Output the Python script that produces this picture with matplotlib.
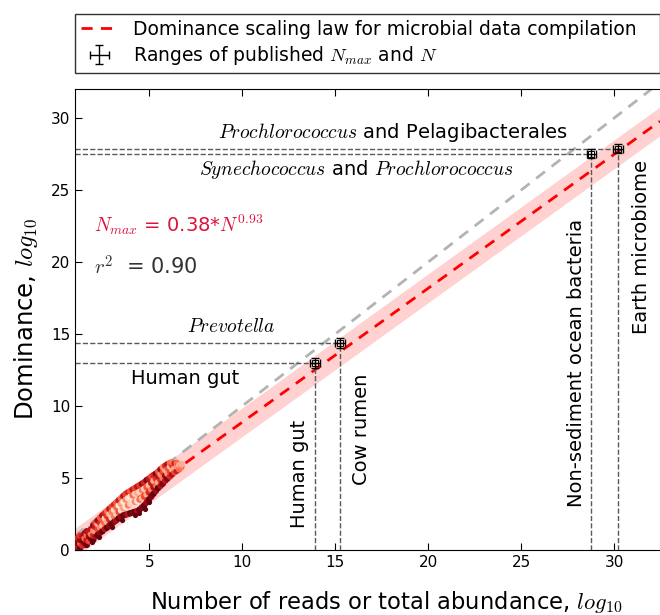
import numpy as np
import matplotlib
matplotlib.use('Agg')
import matplotlib.pyplot as plt

plt.rcParams['mathtext.fontset'] = 'cm'

# fitted dominance scaling law, N_max = c * N^z
fit_c = 0.38
fit_z = 0.93
fit_r2 = 0.90

col_x = [1.05, 1.15, 1.28, 1.4, 1.52, 1.63, 1.75, 1.86, 1.98, 2.1, 2.22, 2.35, 2.47, 2.6, 2.72, 2.85,
         2.97, 3.1, 3.22, 3.35, 3.47, 3.6, 3.72, 3.85, 3.97, 4.1, 4.22, 4.35, 4.47, 4.6, 4.72, 4.85,
         4.97, 5.1, 5.22, 5.35, 5.47, 5.6, 5.72, 5.85, 5.97, 6.1, 6.22, 6.35, 6.47, 6.6, 6.72]
col_y = [[0.1, 0.35, 0.6], [0.25, 0.5, 0.85], [0.15, 0.45, 0.7, 1.0], [0.3, 0.65, 0.95],
         [0.5, 0.8, 1.15], [0.35, 0.7, 1.05, 1.3], [0.6, 0.95, 1.25], [0.8, 1.1, 1.45],
         [0.7, 1.0, 1.35, 1.7], [0.95, 1.3, 1.6, 1.9], [1.05, 1.45, 1.8, 2.05], [1.2, 1.55, 1.9, 2.25],
         [1.3, 1.7, 2.05, 2.4], [1.45, 1.85, 2.2, 2.55], [1.55, 1.95, 2.35, 2.7], [1.7, 2.1, 2.5, 2.85],
         [1.8, 2.25, 2.65, 3.0], [1.95, 2.35, 2.8, 3.15], [2.05, 2.5, 2.95, 3.3], [2.2, 2.65, 3.1, 3.45],
         [2.3, 2.75, 3.2, 3.6], [2.4, 2.9, 3.35, 3.75], [2.45, 3.0, 3.5, 3.9], [2.5, 3.1, 3.6, 4.0],
         [2.55, 3.2, 3.7, 4.1], [2.6, 3.3, 3.8, 4.2], [2.65, 3.35, 3.9, 4.3], [2.7, 3.4, 3.95, 4.4],
         [2.8, 3.5, 4.05, 4.5], [2.95, 3.6, 4.15, 4.6], [3.1, 3.7, 4.25, 4.7], [3.3, 3.85, 4.35, 4.85],
         [3.5, 4.0, 4.5, 4.95], [3.7, 4.2, 4.65, 5.1], [3.9, 4.35, 4.8, 5.2], [4.1, 4.5, 4.95, 5.3],
         [4.3, 4.7, 5.1, 5.45], [4.45, 4.85, 5.25, 5.6], [4.6, 5.0, 5.4, 5.75], [4.8, 5.15, 5.55, 5.85],
         [4.95, 5.3, 5.7, 5.95], [5.1, 5.45, 5.8, 6.05], [5.25, 5.6, 5.9, 6.1], [5.4, 5.7, 6.0],
         [5.5, 5.8, 6.05], [5.6, 5.9], [5.75, 5.95]]
col_c = [[0.95, 0.6, 0.85], [0.8, 0.95, 0.7], [1.0, 0.55, 0.9, 0.65], [0.7, 0.95, 0.8],
         [0.95, 0.5, 0.9], [1.0, 0.75, 0.45, 0.85], [0.6, 0.9, 0.75], [0.95, 0.45, 0.8],
         [1.0, 0.7, 0.4, 0.9], [0.85, 0.35, 0.75, 0.6], [1.0, 0.6, 0.3, 0.9], [0.9, 0.4, 0.7, 0.55],
         [1.0, 0.25, 0.55, 0.85], [0.8, 0.5, 0.2, 0.7], [1.0, 0.3, 0.65, 0.5], [0.9, 0.7, 0.25, 0.8],
         [1.0, 0.2, 0.45, 0.6], [0.95, 0.45, 0.15, 0.7], [0.85, 0.2, 0.5, 0.55], [1.0, 0.6, 0.1, 0.75],
         [0.9, 0.15, 0.35, 0.5], [1.0, 0.35, 0.1, 0.8], [0.95, 0.1, 0.4, 0.6], [0.8, 0.45, 0.15, 0.7],
         [1.0, 0.2, 0.1, 0.55], [0.95, 0.15, 0.5, 0.75], [1.0, 0.4, 0.2, 0.6], [0.85, 0.1, 0.3, 0.8],
         [1.0, 0.5, 0.15, 0.65], [0.95, 0.25, 0.45, 0.9], [1.0, 0.6, 0.2, 0.7], [0.9, 0.3, 0.55, 0.95],
         [1.0, 0.7, 0.25, 0.8], [0.95, 0.4, 0.75, 0.6], [1.0, 0.85, 0.3, 0.7], [0.9, 0.5, 0.65, 0.95],
         [1.0, 0.3, 0.8, 0.55], [0.85, 0.7, 0.35, 0.9], [0.95, 0.45, 0.6, 0.4], [0.8, 0.9, 0.3, 0.7],
         [0.95, 0.35, 0.55, 0.85], [0.7, 0.6, 0.25, 0.5], [0.85, 0.3, 0.65, 0.45], [0.6, 0.3, 0.7],
         [0.75, 0.35, 0.5], [0.5, 0.3], [0.45, 0.3]]
outlier_x = [4.2, 4.45, 2.3, 3.0, 5.0, 1.9, 3.55, 4.75]
outlier_y = [2.4, 2.55, 0.9, 1.6, 3.3, 0.55, 2.05, 2.85]

# published Nmax and N for large systems
sys_x = [13.9, 15.25, 28.75, 30.2]
sys_y = [12.95, 14.35, 27.5, 27.85]
sys_xerr = [0.25, 0.25, 0.25, 0.25]
sys_yerr = [0.35, 0.35, 0.3, 0.3]
sys_names = ['Human gut', 'Cow rumen', 'Non-sediment ocean bacteria', 'Earth microbiome']
dom_names = ['Human gut', '$Prevotella$',
             '$Synechococcus$ and $Prochlorococcus$', '$Prochlorococcus$ and Pelagibacterales']


def main():
    fig = plt.figure(figsize=(6.6, 6.15), dpi=100)
    ax = fig.add_axes([0.1136, 0.1057, 0.8864, 0.7496])
    xmin, xmax = 1.0, 32.45

    xs = np.linspace(xmin, xmax, 200)
    ys = np.log10(fit_c) + fit_z * xs
    ax.fill_between(xs, ys - 1.0, ys + 1.0, color='red', alpha=0.18, lw=0, zorder=1)
    ax.plot([xmin, xmax], [xmin, xmax], '--', color='0.7', lw=2, dashes=(4, 3), zorder=2)
    ax.plot(xs, ys, '--', color='red', lw=2, dashes=(4, 3), zorder=2,
            label='Dominance scaling law for microbial data compilation')

    px, py, pc = [], [], []
    for x, yl, cl in zip(col_x, col_y, col_c):
        px += [x] * len(yl)
        py += yl
        pc += cl
    ax.scatter(px, py, c=pc, cmap='Reds', vmin=0, vmax=1, s=22, lw=0, zorder=3)
    ax.scatter(outlier_x, outlier_y, c='#67000d', s=14, lw=0, zorder=3)

    # guide lines to the published systems
    ax.vlines(sys_x, 0, sys_y, colors='0.35', linestyles='dashed', lw=1, zorder=2)
    ax.hlines(sys_y, xmin, sys_x, colors='0.35', linestyles='dashed', lw=1, zorder=2)

    ax.errorbar(sys_x, sys_y, xerr=sys_xerr, yerr=sys_yerr, fmt='none', ecolor='k',
                elinewidth=1, capsize=3, zorder=4, label='Ranges of published $N_{max}$ and $N$')
    ax.plot(sys_x, sys_y, 's', ms=4.5, mfc='none', mec='k', mew=0.7, zorder=4)

    # labels for N (vertical) and Nmax (horizontal)
    ax.text(13.06, 5.3, sys_names[0], rotation=90, fontsize=14, ha='center', va='center')
    ax.text(16.4, 8.4, sys_names[1], rotation=90, fontsize=14, ha='center', va='center')
    ax.text(27.94, 13.0, sys_names[2], rotation=90, fontsize=14, ha='center', va='center')
    ax.text(31.43, 21.0, sys_names[3], rotation=90, fontsize=14, ha='center', va='center')

    ax.text(4.0, 11.9, dom_names[0], fontsize=14, ha='left', va='center')
    ax.text(9.4, 15.5, dom_names[1], fontsize=14, ha='center', va='center')
    ax.text(16.1, 26.4, dom_names[2], fontsize=14, ha='center', va='center')
    ax.text(18.1, 29.0, dom_names[3], fontsize=14, ha='center', va='center')

    ax.text(2.04, 22.6, '$N_{max}$ = %.2f*$N^{%.2f}$' % (fit_c, fit_z), color='crimson',
            fontsize=14, ha='left', va='center')
    ax.text(2.04, 19.65, '$r^2$  = %.2f' % fit_r2, color='0.2', fontsize=15, ha='left', va='center')

    ax.set_xlim(xmin, xmax)
    ax.set_ylim(0, 32)
    ax.set_xticks([5, 10, 15, 20, 25, 30])
    ax.set_yticks([0, 5, 10, 15, 20, 25, 30])
    ax.tick_params(direction='in', top=True, right=False, labelsize=11, length=5)
    ax.spines['right'].set_visible(False)

    ax.set_xlabel('Number of reads or total abundance, $log_{10}$', fontsize=16.3, labelpad=16)
    ax.xaxis.set_label_coords(0.532, -0.085)
    ax.set_ylabel('Dominance, $log_{10}$', fontsize=17.5, labelpad=8)

    leg = ax.legend(loc='lower left', bbox_to_anchor=(0, 1.035, 1.0, 0.13), mode='expand',
                    borderaxespad=0, fontsize=13.5, fancybox=False, frameon=True,
                    borderpad=0.3, labelspacing=0.3)
    leg.get_frame().set_edgecolor('k')
    leg.get_frame().set_linewidth(1)

    fig.savefig('out.png', dpi=100)
    plt.close(fig)


if __name__ == '__main__':
    main()
